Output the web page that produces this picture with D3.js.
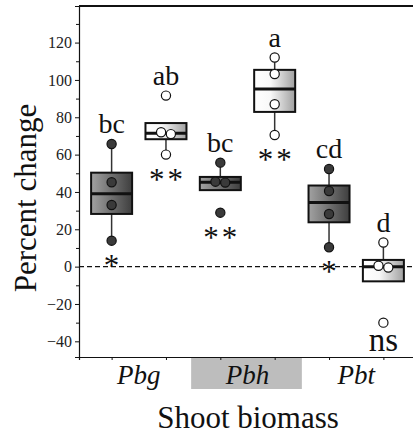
<!DOCTYPE html>
<html>
<head>
<meta charset="utf-8">
<script src="https://cdn.jsdelivr.net/npm/d3@7"></script>
<style>
  html, body { margin: 0; padding: 0; background: #fff; }
  svg { display: block; }
</style>
</head>
<body>
<svg id="chart" width="413" height="435"></svg>
<script>
// Species groups along the x axis
const categories = ["Pbg", "Pbh", "Pbt"];
// Replicate values (percent change) per species, dark-box and light-box treatments
const darkValues  = [[65.7, 45.2, 33.0, 13.9], [55.7, 45.5, 45.0, 28.9], [52.3, 40.5, 28.2, 10.4]];
const lightValues = [[91.6, 72.0, 71.0, 60.0], [112.0, 103.2, 87.0, 70.5], [12.9, 0.5, -0.5, -30.0]];
// Compact letter display and significance marks
const darkLetters  = ["bc", "bc", "cd"];
const lightLetters = ["ab", "a", "d"];
const darkSig  = ["*", "**", "*"];
const lightSig = ["**", "**", "ns"];
// Axis ticks
const yTickValues = [-40, -20, 0, 20, 40, 60, 80, 100, 120];
const yMinorTicks = [-30, -10, 10, 30, 50, 70, 90, 110, 130];
const highlighted = "Pbh";

const FONT = '"Liberation Serif", "Times New Roman", Times, "DejaVu Serif", serif';
const svg = d3.select("#chart");
const plotL = 79, plotT = 6, plotB = 357, plotR = 416;

function label(sel) {
  return sel.attr("font-family", FONT).style("font-family", FONT).attr("fill", "#111");
}

// One slot per box: dark then light within each species
const slots = [];
categories.forEach((c, i) => {
  slots.push({ key: c + "-d", cat: c, kind: "dark", values: darkValues[i], letter: darkLetters[i], sig: darkSig[i] });
  slots.push({ key: c + "-l", cat: c, kind: "light", values: lightValues[i], letter: lightLetters[i], sig: lightSig[i] });
});

const x = d3.scalePoint().domain(slots.map(d => d.key)).range([plotL, plotR]).padding(0.6);
const y = d3.scaleLinear().domain([-48.4, 139.6]).range([plotB, plotT]);
const step = x.step();
const boxW = 41, r = 4.6;

// Gradients for the two box fills
const defs = svg.append("defs");
const gDark = defs.append("linearGradient").attr("id", "gradDark");
gDark.append("stop").attr("offset", "0%").attr("stop-color", "#a2a2a2");
gDark.append("stop").attr("offset", "100%").attr("stop-color", "#3e3e3e");
const gLight = defs.append("linearGradient").attr("id", "gradLight");
gLight.append("stop").attr("offset", "0%").attr("stop-color", "#ffffff");
gLight.append("stop").attr("offset", "40%").attr("stop-color", "#f8f8f8");
gLight.append("stop").attr("offset", "100%").attr("stop-color", "#a0a0a0");

// Highlight band behind the middle species label
const hi = slots.filter(d => d.cat === highlighted);
svg.append("rect")
  .attr("x", x(hi[0].key) - step / 2 - 2)
  .attr("y", plotB + 1)
  .attr("width", x(hi[1].key) - x(hi[0].key) + step + 2)
  .attr("height", 31)
  .attr("fill", "#bdbdbd");

// Frame: top line
svg.append("line").attr("x1", plotL).attr("x2", plotR).attr("y1", plotT).attr("y2", plotT)
  .attr("stroke", "#111").attr("stroke-width", 2);

// Y axis with major and minor ticks
const yAxis = svg.append("g").attr("transform", `translate(${plotL},0)`)
  .call(d3.axisLeft(y).tickValues(yTickValues).tickSize(4).tickPadding(3).tickFormat(d3.format("d")));
yAxis.attr("font-family", FONT);
yAxis.select(".domain").attr("stroke", "#111").attr("stroke-width", 1.2);
yAxis.selectAll(".tick line").attr("stroke", "#111");
label(yAxis.selectAll(".tick text")).style("font-size", "16px").attr("fill", "#222");
svg.append("g").attr("transform", `translate(${plotL},0)`)
  .call(d3.axisLeft(y).tickValues(yMinorTicks).tickSize(3).tickFormat(""))
  .call(g => g.select(".domain").remove())
  .selectAll(".tick line").attr("stroke", "#111");

// X axis with ticks at each box
const xAxis = svg.append("g").attr("transform", `translate(0,${plotB})`)
  .call(d3.axisBottom(x).tickSize(3).tickFormat(""));
xAxis.select(".domain").attr("stroke", "#111").attr("stroke-width", 1.2);
xAxis.selectAll(".tick line").attr("stroke", "#111");

// Zero reference line
svg.append("line").attr("x1", plotL).attr("x2", plotR).attr("y1", y(0)).attr("y2", y(0))
  .attr("stroke", "#111").attr("stroke-width", 1.4).attr("stroke-dasharray", "5,3");

// Box plots (Tukey whiskers, type-7 quantiles)
slots.forEach(d => {
  const v = d.values.slice().sort(d3.ascending);
  const q1 = d3.quantile(v, 0.25), med = d3.quantile(v, 0.5), q3 = d3.quantile(v, 0.75);
  const iqr = q3 - q1;
  const lo = d3.min(v.filter(t => t >= q1 - 1.5 * iqr));
  const up = d3.max(v.filter(t => t <= q3 + 1.5 * iqr));
  const cx = x(d.key);
  const g = svg.append("g");
  g.append("line").attr("x1", cx).attr("x2", cx).attr("y1", y(up)).attr("y2", y(q3))
    .attr("stroke", "#333").attr("stroke-width", 1.5);
  g.append("line").attr("x1", cx).attr("x2", cx).attr("y1", y(q1)).attr("y2", y(lo))
    .attr("stroke", "#333").attr("stroke-width", 1.5);
  g.append("rect").attr("x", cx - boxW / 2).attr("y", y(q3))
    .attr("width", boxW).attr("height", y(q1) - y(q3))
    .attr("fill", d.kind === "dark" ? "url(#gradDark)" : "url(#gradLight)")
    .attr("stroke", "#111").attr("stroke-width", 2);
  g.append("line").attr("x1", cx - boxW / 2).attr("x2", cx + boxW / 2).attr("y1", y(med)).attr("y2", y(med))
    .attr("stroke", "#111").attr("stroke-width", 3);

  // Points, dodged sideways when they would overlap
  const pts = v.map(t => ({ v: t, py: y(t), dx: 0 }));
  const groups = [];
  pts.sort((a, b) => a.py - b.py).forEach(p => {
    const last = groups[groups.length - 1];
    if (last && p.py - last[last.length - 1].py < 2 * r) last.push(p); else groups.push([p]);
  });
  groups.forEach(gr => gr.forEach((p, i) => { p.dx = (i - (gr.length - 1) / 2) * (2 * r + 0.6); }));
  g.selectAll("circle").data(pts).join("circle")
    .attr("cx", p => cx + p.dx).attr("cy", p => p.py).attr("r", r)
    .attr("fill", d.kind === "dark" ? "#3a3a3a" : "#fff")
    .attr("stroke", "#111").attr("stroke-width", 1.2);

  // Letter above the highest point
  label(g.append("text")).attr("x", cx).attr("y", y(v[v.length - 1]) - r - 6)
    .attr("text-anchor", "middle").style("font-size", "28px").text(d.letter);

  // Significance mark below the lowest point
  const baseY = y(v[0]);
  if (d.sig === "ns") {
    label(g.append("text")).attr("x", cx).attr("y", baseY + 28)
      .attr("text-anchor", "middle").style("font-size", "33px").text(d.sig);
  } else {
    label(g.append("text")).attr("x", cx).attr("y", baseY + 35)
      .attr("text-anchor", "middle").style("font-size", "31px")
      .style("letter-spacing", d.sig.length > 1 ? "3px" : "0px")
      .attr("dx", d.sig.length > 1 ? 1.5 : 0)
      .text(d.sig);
  }
});

// Species labels
categories.forEach(c => {
  const cx = (x(c + "-d") + x(c + "-l")) / 2;
  label(svg.append("text")).attr("x", cx).attr("y", 384).attr("text-anchor", "middle")
    .style("font-size", "27px").style("font-style", "italic").text(c);
});

// Axis titles
label(svg.append("text")).attr("x", 248).attr("y", 428).attr("text-anchor", "middle")
  .style("font-size", "31px").text("Shoot biomass");
label(svg.append("text")).attr("transform", "translate(36,198) rotate(-90)")
  .attr("text-anchor", "middle").style("font-size", "31px").text("Percent change");
</script>
</body>
</html>
